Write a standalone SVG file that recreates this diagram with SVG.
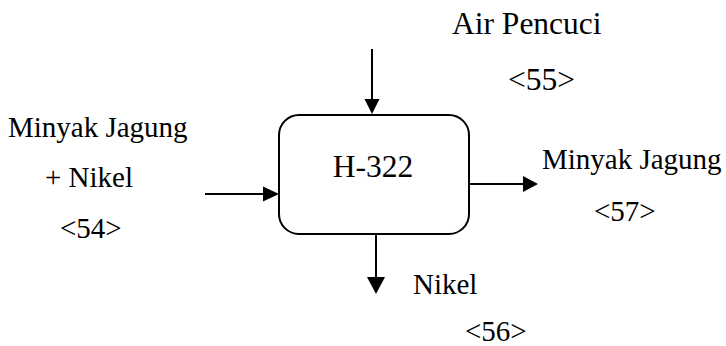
<svg xmlns="http://www.w3.org/2000/svg" width="726" height="346" viewBox="0 0 726 346" font-family="'Liberation Serif', 'Times New Roman', Times, serif">
<style>
text{font-family:'Liberation Serif','Times New Roman',Times,serif;fill:#000}
.s{font-size:29px}
.b{font-size:31.5px}
.ln{stroke:#000;stroke-width:2;fill:none}
.hd{fill:#000}
</style>
<rect width="726" height="346" fill="#fff"/>
<g id="node-h322">
<rect x="279" y="115" width="190" height="119" rx="20" ry="20" fill="#fff" stroke="#000" stroke-width="2"/>
<text class="b" x="373" y="177" text-anchor="middle">H-322</text>
</g>
<g id="connectors">
<line class="ln" x1="372" y1="49" x2="372" y2="100"/>
<polygon class="hd" points="364.5,99 379.5,99 372,114"/>
<line class="ln" x1="205" y1="194" x2="264" y2="194"/>
<polygon class="hd" points="263,186.5 263,201.5 279,194"/>
<line class="ln" x1="469" y1="184" x2="524" y2="184"/>
<polygon class="hd" points="523,176 523,192 538,184"/>
<line class="ln" x1="376" y1="233" x2="376" y2="278"/>
<polygon class="hd" points="367,277 385,277 376,294"/>
</g>
<g id="label-air">
<text class="b" x="452" y="34">Air Pencuci</text>
<text class="b" x="508" y="90">&lt;55&gt;</text>
</g>
<g id="label-in">
<text class="s" x="8" y="137">Minyak Jagung</text>
<text class="s" x="45" y="187">+ Nikel</text>
<text class="s" x="60" y="238">&lt;54&gt;</text>
</g>
<g id="label-out-oil">
<text class="s" x="542" y="169">Minyak Jagung</text>
<text class="s" x="594" y="221">&lt;57&gt;</text>
</g>
<g id="label-out-nikel">
<text class="s" x="413" y="294">Nikel</text>
<text class="s" x="465" y="341">&lt;56&gt;</text>
</g>
</svg>
